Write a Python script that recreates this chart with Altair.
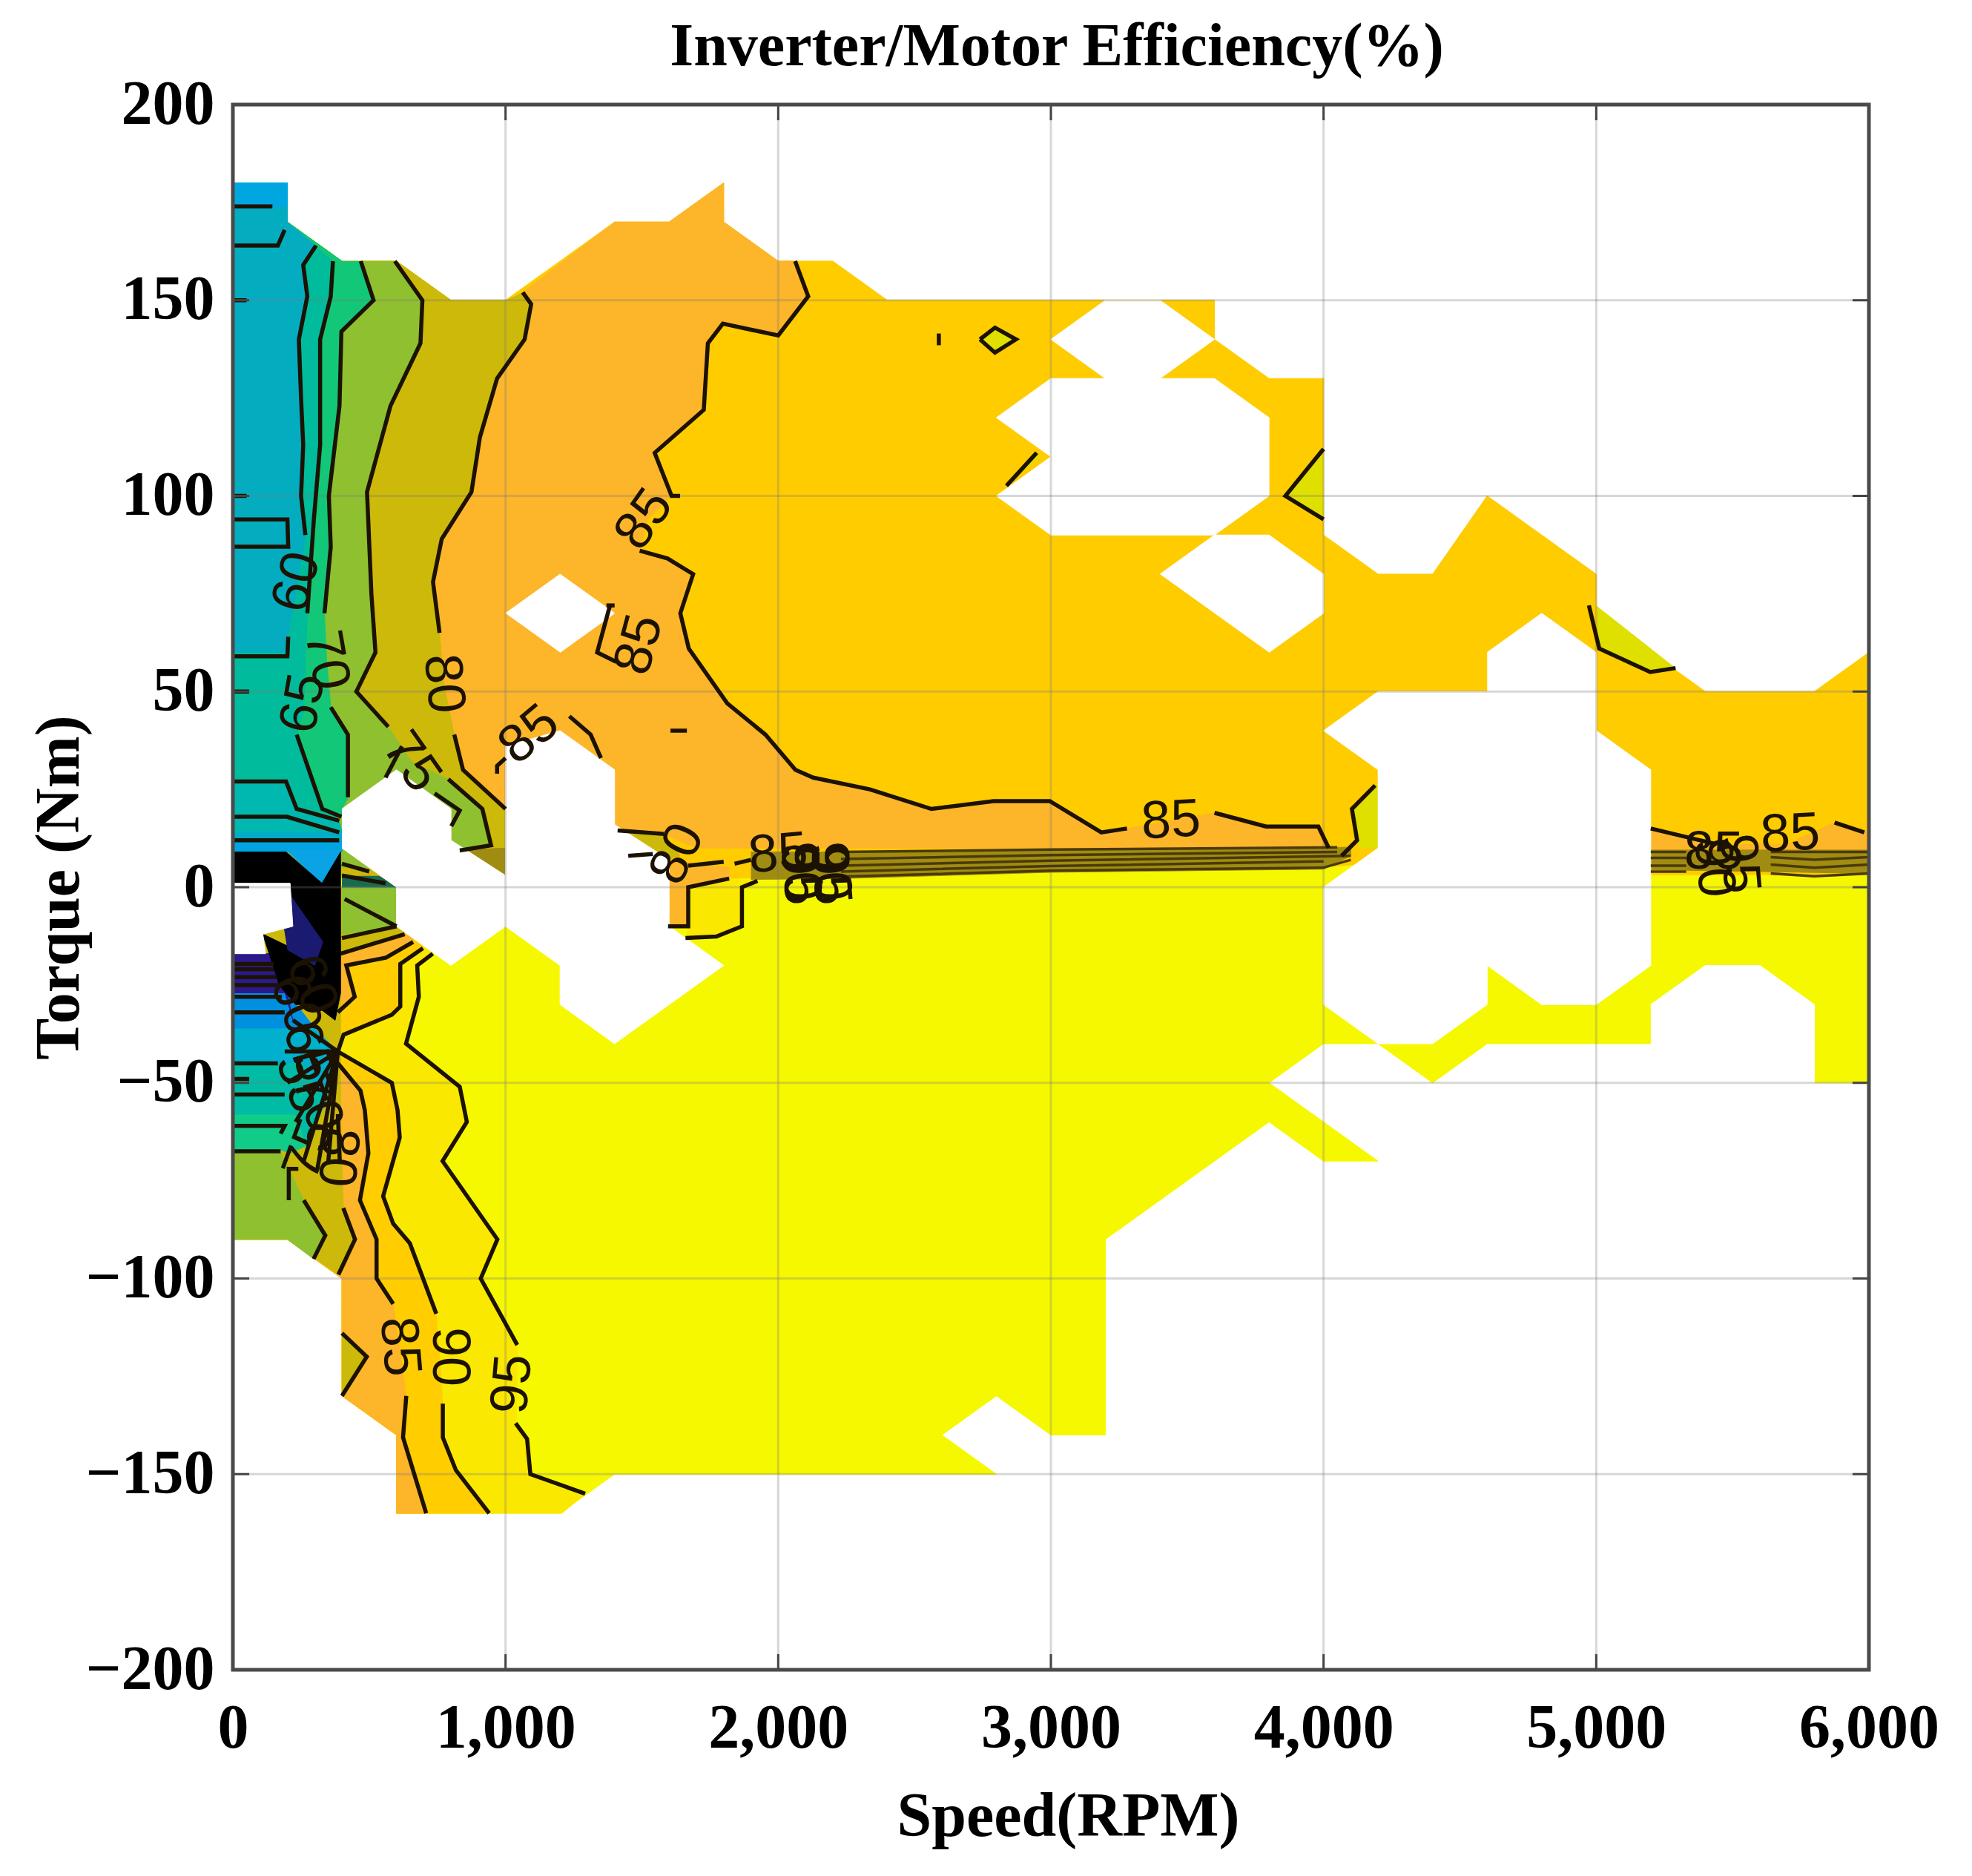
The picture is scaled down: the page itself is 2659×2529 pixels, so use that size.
import altair as alt

# ---------- axis values ----------
X_TICKS = [0, 1000, 2000, 3000, 4000, 5000, 6000]
Y_TICKS = [-200, -150, -100, -50, 0, 50, 100, 150, 200]
X_GRID = [1000, 2000, 3000, 4000, 5000]
Y_GRID = [-150, -100, -50, 0, 50, 100, 150]

# ---------- filled regions (speed, torque) ----------
MOTOR_ENV = [(0,180),(200,180),(200,170),(400,160),(600,160),(800,150),(1000,150),(1400,170),(1600,170),(1800,180),(1800,170),(2000,160),(2200,160),(2400,150),(3600,150),(3600,140),(3800,130),(4000,130),(4000,90),(4200,80),(4400,80),(4600,100),(5000,80),(5000,70),(5400,50),(5800,50),(6000,60),(6000,2),(0,2)]
REGEN_ENV = [(0,3),(1800,2),(3000,4),(4000,5),(4200,6),(4200,3),(6000,3),(6000,-50),(5800,-50),(5800,-30),(5600,-20),(5400,-20),(5200,-30),(5200,-40),(4600,-40),(4400,-50),(4200,-40),(4000,-40),(3800,-50),(4200,-70),(4000,-70),(3800,-60),(3200,-90),(3200,-140),(3000,-140),(2800,-130),(2600,-140),(2800,-150),(1400,-150),(1200,-160),(600,-160),(600,-140),(400,-130),(400,-100),(200,-90),(0,-90)]
NEG_90_95 = [(0,0),(800,0),(733,-17),(676,-20),(682,-28),(635,-40),(832,-51),(858,-60),(769,-70),(970,-90),(909,-100),(1043,-117),(1040,-137),(1079,-141),(1091,-150),(1292,-155),(1207,-160),(600,-160),(600,-140),(400,-130),(400,-100),(200,-90),(0,-90)]
NEG_85_90 = [(0,0),(697,0),(697,-15.6),(614,-19.6),(614,-30.5),(583,-32.6),(406,-37.7),(385,-42),(583,-50),(604,-57),(612,-64),(551,-79),(588,-86),(649,-91),(746,-109),(770,-132),(770,-140.6),(818,-149),(940,-160),(600,-160),(600,-140),(400,-130),(400,-100),(200,-90),(0,-90)]
NEG_80_85 = [(0,0),(661,0),(661,-14),(562,-18),(416,-20),(447,-28),(385,-32),(385,-45),(468,-52),(484,-57),(497,-68),(466,-80),(527,-90),(527,-100),(588,-106.5),(636,-130),(624,-140.6),(709,-160),(600,-160),(600,-140),(400,-130),(400,-100),(200,-90),(0,-90)]
NEG_75_80 = [(0,0),(630,0),(630,-12),(395,-17),(395,-58),(405,-82),(448,-90),(387,-99),(200,-90),(0,-90)]
NEG_75_TRI = [(400,-114),(491,-120),(400,-130)]
NEG_70_75 = [(0,-67),(170,-67),(260,-80),(339,-89),(296,-95),(200,-90),(0,-90)]
NEG_POS_GREEN = [(400,0),(600,0),(600,-10),(400,-12)]
NEG_DARK_TRI = [(400,9),(600,0),(400,0)]
NEG_GREEN = [(0,-58),(230,-58),(270,-66),(210,-68),(170,-67),(0,-67)]
NEG_TEAL = [(0,-45),(260,-45),(340,-55),(270,-66),(230,-58),(0,-58)]
NEG_CYAN = [(0,-36),(300,-36),(385,-42),(340,-55),(260,-45),(0,-45)]
NEG_BLUE = [(0,-27),(200,-27),(300,-36),(0,-36)]
NEG_PURPLE = [(0,-17),(150,-17),(220,-34),(200,-27),(0,-27)]

ORANGE = [(1063,152),(1094,149),(1070,140),(969,130),(906,115),(875,101),(766,89),(734,78),(758,65),(773,52),(812,39),(844,30),(1000,20),(1000,3),(1400,3),(1400,14.5),(1581,13.6),(1700,10),(2283,10),(4019,10),(3981,15.5),(3789,15.5),(3600,19),(3440,17),(3279,15),(3185,14),(2996,22),(2789,22),(2562,20),(2336,25),(2128,28),(2063,30),(1953,39),(1813,47),(1672,61),(1641,70),(1688,80),(1594,84),(1492,86),(1520,94),(1609,100),(1547,111),(1727,122),(1742,139),(1797,144),(2000,141),(2110,151),(2062,160),(2000,160),(1800,170),(1800,180),(1600,170),(1400,170),(1063,152)]
OLIVE = [(1063,152),(1094,149),(1070,140),(969,130),(906,115),(875,101),(766,89),(734,78),(758,65),(773,52),(812,39),(844,30),(1000,20),(1000,3),(0,3),(0,180),(200,180),(200,170),(400,160),(600,160),(800,150),(1000,150)]
YGREEN = [(594,160),(695,150),(688,139),(578,123),(492,101),(508,75),(523,60),(453,50),(570,41),(656,32),(790,27.6),(915,20),(947,10.7),(832,9.4),(800,5),(400,5),(0,5),(0,180),(200,180),(200,170),(400,160)]
GREEN = [(469,160),(516,150),(398,142),(391,123),(352,100),(359,87),(336,70),(344,58),(359,46),(422,39),(422,22.7),(400,20),(400,18),(0,18),(0,180),(200,180),(200,170),(400,160)]
TEAL = [(367,160),(359,151),(320,140),(320,113),(297,94),(273,70),(260,45),(234,39),(328,20),(398,18),(0,18),(0,180),(200,180),(200,170)]
CYAN = [(305,164),(258,159),(273,151),(242,140),(250,125),(258,113),(250,100),(266,90),(230,75),(190,60),(0,60),(0,180),(200,180),(200,170)]
TOP_BLUE = [(0,180),(200,180),(200,174),(0,174)]
BAND_A = [(0,27),(195,27),(234,20),(390,17),(400,14),(0,14)]
BAND_B = [(0,14),(400,14),(400,12),(0,12)]
BAND_C = [(0,12),(400,12),(400,9),(0,9)]
BLUE_TRI = [(195,9.5),(395,9.5),(327,0.7)]
BLACK = [(0,9),(195,9),(327,1),(395,9),(395,-27),(375,-34),(300,-30),(230,-30),(170,-25),(110,-12),(200,-15),(190,-5),(210,0),(0,1)]
NAVY = [(170,-3),(210,-2),(330,-14),(300,-20),(200,-16)]

LOW_ORANGE = [(1590,7),(1820,5),(1820,2),(1670,0),(1670,-10),(1596,-10)]
LOW_OLIVE = [(1400,14.5),(1581,13.6),(1640,8),(1590,7),(1400,5)]
LOW_GOLD = [(1670,-10),(1670,0),(1820,2),(1924,1.6),(1867,0),(1867,-10),(1773,-12.6),(1660,-13)]
BAND_MID = [(1900,9),(2230,9),(3000,9.6),(4100,10.2),(4100,8),(4000,4.6),(3000,3.8),(2230,2.2),(1900,2)]
RIGHT_ORANGE = [(5200,15),(5440,11),(5700,11),(5874,16.5),(6000,14),(6000,9),(5200,9)]
RIGHT_BAND = [(5200,9.5),(6000,9.5),(6000,3.5),(5200,4.5)]
LEFT_BAND = [(822,9.4),(1000,10),(1000,3),(930,3)]
FRAG_A = [(5000,72),(5011,61),(5198,55),(5291,56)]
FRAG_B = [(4200,26),(4109,20),(4132,10),(4200,10)]
FRAG_C = [(2948,111),(2837,102.6),(2960,110)]
FRAG_D = [(4000,112),(3860,100),(4000,94)]
FRAG_E = [(2740,140),(2795,143),(2872,140),(2795,136.6)]

HOLE_A = [(3200,150),(3000,140),(3200,130),(3000,130),(2800,120),(3000,110),(2800,100),(3000,90),(3600,90),(3800,100),(3800,120),(3600,130),(3400,130),(3600,140),(3400,150)]
HOLE_B = [(4600,60),(4800,70),(5000,60),(5000,40),(5200,30),(5200,-20),(5000,-30),(4800,-30),(4600,-20),(4600,-30),(4400,-40),(4200,-40),(4000,-30),(4000,0),(4200,10),(4200,30),(4000,40),(4200,50),(4600,50)]
HOLE_C = [(5200,-30),(5400,-20),(5600,-20),(5800,-30),(5800,-50),(5200,-50)]
HOLE_D = [(400,20),(600,30),(800,20),(800,12),(1000,3),(1000,36),(1200,40),(1400,30),(1400,16),(1600,7),(1600,-10),(1800,-20),(1400,-40),(1200,-30),(1200,-20),(1000,-10),(800,-20),(600,-10),(600,0),(400,10)]
HOLE_E = [(1000,70),(1200,80),(1400,70),(1200,60)]
HOLE_F = [(3400,80),(3600,90),(3800,90),(4000,80),(4000,70),(3800,60)]
HOLE_G = [(0,1),(210,1),(220,-10),(110,-12),(120,-17),(0,-17)]

# ---------- contour lines (speed, torque) ----------
CONTOURS = [
    [(305,164),(258,159),(273,151),(242,140),(250,125),(258,113),(250,100),(266,90)],
    [(234,39),(328,20),(398,18)],
    [(367,160),(359,151),(320,140),(320,113),(297,94),(273,70)],
    [(469,160),(516,150),(398,142),(391,123),(352,100),(359,87),(336,70)],
    [(359,46),(422,39),(422,23)],
    [(594,160),(695,150),(688,139),(578,123),(492,101),(508,75),(523,60),(453,50),(570,41)],
    [(560,28),(620,36)],
    [(740,24),(832,19.6),(801,15.6)],
    [(790,27.6),(915,20),(947,10.7),(832,9.4)],
    [(1063,152),(1094,149),(1070,140),(969,130),(906,115),(875,101),(766,89),(734,78),(758,65)],
    [(812,39),(844,30),(1000,20)],
    [(2062,160),(2110,151),(2000,141),(1797,144),(1742,139),(1727,122),(1547,111),(1609,100),(1640,100)],
    [(1492,86),(1594,84),(1688,80),(1641,70),(1672,61),(1813,47),(1953,39),(2063,30),(2128,28),(2336,25),(2562,20),(2789,22),(2996,22),(3185,14),(3279,15)],
    [(3600,19),(3789,15.5),(3981,15.5),(4019,10)],
    [(4189,26),(4104,20),(4123,12),(4066,8)],
    [(1234,43.7),(1312,39),(1350,33)],
    [(969,29),(969,31),(1000,33)],
    [(1383,72),(1336,60),(1406,57.6)],
    [(1370,72),(1400,72)],
    [(1411,14.5),(1581,13.6)],
    [(1450,8),(1540,8.5)],
    [(1670,5.5),(1800,6.5)],
    [(1596,-10),(1670,-10),(1670,0),(1820,2.2)],
    [(1660,-13),(1773,-12.6),(1867,-10),(1867,0),(1924,1.6)],
    [(1840,6),(1900,7)],
    [(5200,15),(5440,11)],
    [(5874,16.5),(5983,14)],
    [(4973,72),(5011,61),(5198,55),(5291,56)],
    [(2837,102.6),(2948,111)],
    [(4000,112),(3860,100),(4000,94)],
    [(2740,140),(2795,143),(2872,140),(2795,136.6),(2740,140)],
    [(733,-17),(676,-20),(682,-28),(635,-40),(832,-51),(858,-60),(769,-70),(970,-90),(909,-100),(1043,-117)],
    [(1037,-137),(1079,-141),(1091,-150),(1292,-155)],
    [(697,-15.6),(614,-19.6),(614,-30.5),(583,-32.6),(406,-37.7),(385,-42),(583,-50),(604,-57),(612,-64),(551,-79),(588,-86),(649,-91),(746,-109)],
    [(770,-132),(770,-140.6),(818,-149),(940,-160)],
    [(661,-14),(562,-18),(416,-20),(447,-28),(385,-32)],
    [(385,-45),(468,-52),(484,-57),(497,-68),(466,-80),(527,-90),(527,-100),(588,-106.5)],
    [(636,-130),(624,-140.6),(709,-160)],
    [(630,-12),(395,-17)],
    [(600,-10),(400,-13)],
    [(385,-58),(392,-70)],
    [(405,-82),(448,-90),(387,-99)],
    [(400,-114),(491,-120),(400,-130)],
    [(260,-80),(339,-89),(296,-95)],
    [(205,-80),(205,-72),(240,-72)],
    [(0,174),(145,174)],
    [(0,164),(165,164),(190,168)],
    [(0,150),(50,150)],[(0,100),(50,100)],[(0,50),(60,50)],
    [(0,94),(200,94),(203,87),(0,87)],
    [(0,59),(200,59),(203,64)],
    [(0,27),(195,27),(234,20),(390,17)],
    [(0,18),(198,18),(390,14)],
    [(0,12),(390,12)],
    [(0,-19.6),(150,-19.6)],[(0,-21),(150,-21)],[(0,-23),(160,-23)],[(0,-25),(170,-25)],[(0,-28),(180,-28)],[(0,-32),(190,-32)],
    [(0,-45),(165,-45)],[(0,-49),(60,-49)],[(0,-53),(190,-53)],[(0,-61),(190,-61),(175,-63)],[(0,-67.5),(175,-67.5)],
    [(385,-42),(220,-34)],[(385,-42),(190,-42)],[(385,-42),(200,-50)],[(385,-42),(230,-60)],[(385,-42),(260,-70)],[(385,-42),(310,-72)],[(385,-42),(350,-70)],
    [(410,-3),(600,-10)],
    [(400,3),(560,1)],[(400,6),(500,4)],
    [(1605,40),(1665,40)],
    [(2589,138.5),(2589,141.5)],
]

# the tightly packed lines along zero torque
BAND_LINES = [
    [(2230,9.0),(3000,9.6),(4050,10.2)],
    [(2230,7.2),(3000,8.2),(4050,9.0)],
    [(2230,5.5),(3000,6.8),(4100,8.0)],
    [(2230,4.0),(3000,5.4),(4000,6.6)],
    [(2230,2.7),(3000,4.2),(4000,5.0),(4100,7)],
    [(5200,9),(5330,9)],[(5200,7.5),(5330,7.5)],[(5200,5.5),(5330,5.5)],[(5200,4),(5330,4)],
    [(5640,9),(6000,9)],[(5640,7.7),(5800,7),(6000,7.7)],[(5640,5.8),(5800,5),(6000,5.8)],[(5640,3.5),(5800,2.8),(6000,3.5)],
]

# ---------- contour labels ----------
LABEL_TEXT = ["85","85","60","70","65","75","80","85","80","85","90","95","90","95","85","85","90","95","85","80","85","90","95","75","60","65","70","55","60"]
LABEL_RPM = [1508,1490,234,344,258,656,773,1086,1630,2000,2080,2080,2190,2190,3440,5431,5431,5524,5711,384,612,794,1025,280,230,275,310,250,290]
LABEL_NM = [94,62,78,58,47,32,52,39,8.5,8.5,4,3,4,3,17,9,5,6,13.6,-69,-117.4,-120,-127,-67,-30,-42,-55,-50,-25]
LABEL_ANGLE = [305,285,285,80,280,55,85,320,295,355,85,85,85,85,357,0,85,85,357,95,85,90,275,290,70,70,70,70,70]

FONT = "Liberation Serif"

x_scale = alt.Scale(domain=[0, 6000], nice=False, zero=False)
y_scale = alt.Scale(domain=[-200, 200], nice=False, zero=False)

axis_common = dict(
    grid=False, domain=False, ticks=False,
    labelFont=FONT, labelFontWeight="bold", labelFontSize=84, labelColor="#000000", labelLimit=2000,
    titleFont=FONT, titleFontWeight="bold", titleFontSize=84, titleColor="#000000",
    labelFlush=False, labelOverlap=False, format=",d",
)
x_axis = alt.Axis(values=X_TICKS, title="Speed(RPM)", labelPadding=38, titlePadding=36, titleX=1126, **axis_common)
y_axis = alt.Axis(values=Y_TICKS, title="Torque (Nm)", labelPadding=25, titlePadding=-8, **axis_common)


def xq(field):
    return alt.X(field, scale=x_scale, axis=x_axis)


def yq(field):
    return alt.Y(field, scale=y_scale, axis=y_axis)


def polygon(points, color):
    rows = [{"s": p[0], "t": p[1], "i": k} for k, p in enumerate(points)]
    return alt.Chart(alt.Data(values=rows)).mark_line(
        fill=color, stroke=color, strokeWidth=1, clip=True
    ).encode(x=xq("s:Q"), y=yq("t:Q"), order=alt.Order("i:Q"))


def polylines(lines, color, width):
    rows = []
    for c, line in enumerate(lines):
        for k, p in enumerate(line):
            rows.append({"s": p[0], "t": p[1], "c": c, "i": k})
    return alt.Chart(alt.Data(values=rows)).mark_line(color=color, strokeWidth=width, clip=True).encode(
        x=xq("s:Q"), y=yq("t:Q"), detail="c:N", order=alt.Order("i:Q")
    )


FILLS = [
    (MOTOR_ENV, "#ffcc00"), (REGEN_ENV, "#f6f800"),
    (NEG_90_95, "#fbe800"), (NEG_85_90, "#ffcd00"), (NEG_80_85, "#fdb52a"),
    (NEG_75_80, "#cdb90a"), (NEG_75_TRI, "#cdb90a"), (NEG_70_75, "#8fc030"),
    (NEG_POS_GREEN, "#8fc030"), (NEG_DARK_TRI, "#1a6a50"),
    (NEG_GREEN, "#10cc88"), (NEG_TEAL, "#00bca4"), (NEG_CYAN, "#00b0cc"),
    (NEG_BLUE, "#0090e0"), (NEG_PURPLE, "#2c1a8c"),
    (ORANGE, "#fdb52a"), (OLIVE, "#cdb90a"), (YGREEN, "#8fc030"), (GREEN, "#12c878"),
    (TEAL, "#00bc9c"), (CYAN, "#04acc0"), (TOP_BLUE, "#00a6e0"),
    (BAND_A, "#00b8b0"), (BAND_B, "#00acc8"), (BAND_C, "#00a4e0"),
    (BLUE_TRI, "#0aa4e6"), (BLACK, "#000000"), (NAVY, "#1a1a70"),
    (LOW_ORANGE, "#fdb52a"), (LOW_OLIVE, "#cdb90a"), (LOW_GOLD, "#fbe800"),
    (BAND_MID, "#a08c10"), (RIGHT_ORANGE, "#fdb52a"), (RIGHT_BAND, "#a08c10"),
    (LEFT_BAND, "#a08c10"),
    (FRAG_A, "#dfe000"), (FRAG_B, "#dfe000"), (FRAG_C, "#dfe000"), (FRAG_D, "#dfe000"), (FRAG_E, "#dfe000"),
    (HOLE_A, "#ffffff"), (HOLE_B, "#ffffff"), (HOLE_C, "#ffffff"), (HOLE_D, "#ffffff"),
    (HOLE_E, "#ffffff"), (HOLE_F, "#ffffff"), (HOLE_G, "#ffffff"),
]
layers = [polygon(p, c) for p, c in FILLS]

# grid over the fills
layers.append(
    alt.Chart(alt.Data(values=[{"g": v} for v in X_GRID])).mark_rule(color="#7a7a7a", opacity=0.3, strokeWidth=3)
    .encode(x=xq("g:Q"))
)
layers.append(
    alt.Chart(alt.Data(values=[{"g": v} for v in Y_GRID])).mark_rule(color="#7a7a7a", opacity=0.3, strokeWidth=3)
    .encode(y=yq("g:Q"))
)

layers.append(polylines(BAND_LINES, "#4a3a08", 3.5))
layers.append(polylines(CONTOURS, "#1c1204", 5.5))

# contour labels
lab_rows = [
    {"txt": a, "s": b, "t": c, "ang": d}
    for a, b, c, d in zip(LABEL_TEXT, LABEL_RPM, LABEL_NM, LABEL_ANGLE)
]
layers.append(
    alt.Chart(alt.Data(values=lab_rows)).mark_text(
        font="Liberation Sans", fontSize=72, color="#1c1204", align="center", baseline="middle"
    ).encode(x=xq("s:Q"), y=yq("t:Q"), text="txt:N", angle=alt.Angle("ang:Q", scale=None))
)

# inward ticks, on all four sides
tick_x = []
for v in X_TICKS[1:-1]:
    tick_x += [{"s": v, "a": -200, "b": -196}, {"s": v, "a": 196, "b": 200}]
layers.append(
    alt.Chart(alt.Data(values=tick_x)).mark_rule(color="#444444", strokeWidth=3).encode(
        x=xq("s:Q"), y=yq("a:Q"), y2="b:Q"
    )
)
tick_y = []
for v in Y_TICKS[1:-1]:
    tick_y += [{"t": v, "a": 0, "b": 60}, {"t": v, "a": 5940, "b": 6000}]
layers.append(
    alt.Chart(alt.Data(values=tick_y)).mark_rule(color="#444444", strokeWidth=3).encode(
        y=yq("t:Q"), x=xq("a:Q"), x2="b:Q"
    )
)

# frame
layers.append(
    alt.Chart(alt.Data(values=[{"a": 0, "b": 6000, "c": -200, "d": 200}])).mark_rect(
        filled=False, stroke="#4a4a4a", strokeWidth=5, fillOpacity=0
    ).encode(x=xq("a:Q"), x2="b:Q", y=yq("c:Q"), y2="d:Q")
)

chart = alt.layer(*layers).properties(
    width=2206,
    height=2110,
    padding={"left": 306, "top": 133, "right": 125, "bottom": 270},
    autosize=alt.AutoSizeParams(type="none"),
    title=alt.TitleParams(
        "Inverter/Motor Efficiency(%)", font=FONT, fontWeight="bold", fontSize=82,
        color="#000000", anchor="middle", dx=8, dy=38, offset=32,
    ),
).configure_view(stroke=None)

chart.save("out.html", embed_options={"renderer": "svg", "actions": False})
